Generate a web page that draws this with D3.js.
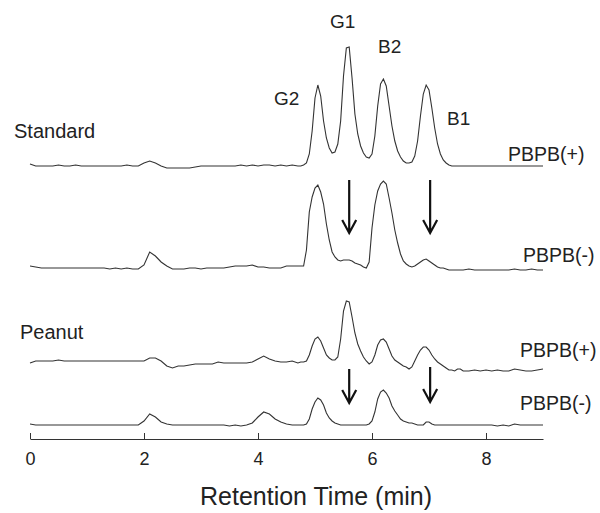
<!DOCTYPE html>
<html>
<head>
<meta charset="utf-8">
<script src="https://cdn.jsdelivr.net/npm/d3@7"></script>
<style>
  body { margin: 0; background: #fff; }
  svg { display: block; font-family: "Liberation Sans", Arial, sans-serif; }
</style>
</head>
<body>
<svg width="600" height="513"></svg>
<script>
// retention time (min), shared by all four traces
const times = [
  0.0, 0.1, 0.2, 0.3, 0.4, 0.5, 0.6, 0.7, 0.8, 0.9,
  1.0, 1.1, 1.2, 1.3, 1.4, 1.5, 1.6, 1.7, 1.8, 1.9,
  2.0, 2.1, 2.2, 2.3, 2.4, 2.5, 2.6, 2.7, 2.8, 2.9,
  3.0, 3.1, 3.2, 3.3, 3.4, 3.5, 3.6, 3.7, 3.8, 3.9,
  4.0, 4.1, 4.2, 4.3, 4.4, 4.5, 4.6, 4.7,
  4.75, 4.80, 4.85, 4.90, 4.95, 5.00, 5.05, 5.10, 5.15, 5.20,
  5.25, 5.30, 5.35, 5.40, 5.45, 5.50, 5.55, 5.60, 5.65, 5.70,
  5.75, 5.80, 5.85, 5.90, 5.95, 6.00, 6.05, 6.10, 6.15, 6.20,
  6.25, 6.30, 6.35, 6.40, 6.45, 6.50, 6.55, 6.60, 6.65, 6.70,
  6.75, 6.80, 6.85, 6.90, 6.95, 7.00, 7.05, 7.10, 7.15, 7.20,
  7.25, 7.30, 7.35, 7.40, 7.45, 7.50, 7.55, 7.60,
  7.7, 7.8, 7.9, 8.0, 8.1, 8.2, 8.3, 8.4, 8.5, 8.6, 8.7, 8.8, 8.9, 9.0
];

// detector signal (a.u.)
const standardPlus = [
  2, 0, 0, 0, 0, 1, 0, 0, 1, 0,
  0, 0, 0, 0, 0, 0, 0, 1, 0, 0,
  3, 5, 3, 0, -2, -2, -2, -2, -2, -1,
  0, 0, 0, 0, 0, 0, 0, 1, 0, 1,
  0, 1, 1, 0, 1, 0, 1, 0,
  0, 1, 3, 12, 35, 68, 81, 70, 45, 28,
  18, 13, 14, 22, 45, 90, 118, 119, 88, 52,
  32, 20, 13, 9, 8, 12, 30, 60, 82, 87,
  80, 60, 40, 25, 15, 9, 5, 3, 3, 4,
  10, 25, 50, 72, 81, 76, 58, 38, 22, 12,
  6, 3, 1, 0, 0, 0, 0, 0,
  0, 0, 0, 0, 0, 0, 0, 0, 0, 0, 0, 0, 0, 0
];
const standardMinus = [
  2, 1, 0, 0, 0, 0, 0, 0, 0, 0,
  0, 0, 0, 0, -1, 0, -1, 0, -1, -1,
  3, 16, 12, 6, 2, -1, -1, -1, 0, 0,
  -1, 0, 0, 0, 0, 1, 2, 2, 2, 3,
  1, 1, 0, 0, 0, 2, 2, 2,
  2, 2, 18, 56, 71, 80, 83, 76, 64, 44,
  28, 16, 11, 8, 7, 8, 8, 8, 7, 5,
  4, 3, 1, 0, 6, 40, 63, 77, 84, 87,
  84, 70, 55, 38, 25, 14, 7, 4, 2, 1,
  2, 4, 6, 8, 9, 7, 5, 3, 1, 0,
  0, -1, -2, -2, -2, -2, -2, -2,
  -1, -2, -2, -2, -2, -2, -2, -2, -1, -2, -2, -1, -2, -2
];
const peanutPlus = [
  -2, 0, 0, 0, 0, 1, 0, 0, 0, 0,
  0, 0, 0, 0, 0, 0, 0, 0, 0, 0,
  0, 3, 3, 0, -5, -7, -5, -5, -4, -3,
  -3, -3, -3, -1, -2, -2, -2, -2, -2, -1,
  2, 5, 2, 0, -1, -1, 0, -2,
  -1, -1, 0, 6, 15, 22, 24, 20, 13, 6,
  3, 1, 1, 4, 22, 50, 60, 59, 44, 28,
  17, 10, 4, 0, -3, -1, 6, 16, 21, 22,
  19, 12, 5, 1, -1, -3, -5, -6, -8, -6,
  0, 6, 11, 14, 14, 11, 6, 2, -1, -3,
  -5, -7, -9, -9, -10, -8, -8, -10,
  -10, -9, -10, -9, -10, -9, -10, -10, -8, -9, -10, -10, -9, -8
];
const peanutMinus = [
  1, 0, 0, 0, 0, 0, 0, 0, 0, 0,
  0, 0, 0, 0, 0, 0, 0, 0, 0, 0,
  4, 11, 8, 3, 1, 0, 0, 0, 0, 0,
  0, 0, 0, 0, 0, -1, 0, -1, 0, 2,
  8, 13, 11, 6, 3, 1, 0, 0,
  0, 0, 1, 6, 16, 23, 27, 25, 20, 12,
  7, 4, 2, 1, 0, 0, 0, 0, 0, 0,
  0, 0, 0, 0, 1, 4, 13, 26, 33, 35,
  32, 27, 19, 14, 10, 6, 4, 3, 2, 2,
  1, 0, 0, 0, 3, 3, 1, 0, 0, 0,
  0, 0, 0, 0, 0, 0, 0, 0,
  0, 0, 0, 0, 0, -1, 0, -1, 1, 0, 0, 0, 0, 0
];

const traceNames = ["PBPB(+)", "PBPB(-)", "PBPB(+)", "PBPB(-)"];
const sampleNames = ["Standard", "Peanut"];
const peakNames = ["G2", "G1", "B2", "B1"];
const xTicks = [0, 2, 4, 6, 8];
const arrowTimes = [5.6, 7.02];

const svg = d3.select("svg");
const ink = "#222";

const x = d3.scaleLinear().domain([0, 9]).range([30, 543]);
const amp = d3.scaleLinear().domain([0, 100]).range([0, -100]);

// trace layout: baseline y and label position
const traces = [
  { values: standardPlus, base: 166, lx: 508, ly: 161 },
  { values: standardMinus, base: 268, lx: 523, ly: 262 },
  { values: peanutPlus, base: 361, lx: 520, ly: 357 },
  { values: peanutMinus, base: 425, lx: 520, ly: 410 }
];

const line = d3.line()
  .x(d => x(d[0]))
  .y(d => amp(d[1]));

traces.forEach((tr, i) => {
  const g = svg.append("g").attr("transform", `translate(0,${tr.base})`);
  g.append("path")
    .datum(times.map((t, k) => [t, tr.values[k]]))
    .attr("d", line)
    .attr("fill", "none")
    .attr("stroke", "#333")
    .attr("stroke-width", 1.1);
  svg.append("text")
    .attr("x", tr.lx).attr("y", tr.ly)
    .attr("font-size", 19.5)
    .attr("fill", ink)
    .text(traceNames[i]);
});

svg.append("text").attr("x", 14).attr("y", 138)
  .attr("font-size", 20).attr("fill", ink).text(sampleNames[0]);
svg.append("text").attr("x", 20).attr("y", 339)
  .attr("font-size", 20).attr("fill", ink).text(sampleNames[1]);

// peak labels
const peakPos = [[274, 105], [330, 28], [378, 53], [447, 125]];
peakNames.forEach((p, i) => {
  svg.append("text")
    .attr("x", peakPos[i][0]).attr("y", peakPos[i][1])
    .attr("font-size", 19).attr("fill", ink).text(p);
});

// arrows
function arrow(t, y1, y2) {
  const ax = x(t);
  svg.append("path")
    .attr("d", `M${ax},${y1}V${y2}M${ax - 7},${y2 - 13}L${ax},${y2}L${ax + 7},${y2 - 13}`)
    .attr("fill", "none")
    .attr("stroke", "#111")
    .attr("stroke-width", 2.2);
}
arrow(arrowTimes[0], 180, 233);
arrow(arrowTimes[1], 180, 233);
arrow(arrowTimes[0], 369, 403);
arrow(arrowTimes[1], 367, 402);

// x axis with upward ticks
const gx = svg.append("g")
  .attr("transform", "translate(0,439)")
  .call(d3.axisBottom(x).tickValues(xTicks).tickSize(-6).tickSizeOuter(0).tickPadding(13));
gx.select(".domain").attr("stroke", "#333");
gx.selectAll(".tick line").attr("stroke", "#333");
gx.selectAll("text")
  .attr("font-size", 18)
  .attr("font-family", "Liberation Sans, Arial, sans-serif")
  .attr("fill", ink);

svg.append("text")
  .attr("x", 316).attr("y", 505)
  .attr("text-anchor", "middle")
  .attr("font-size", 25)
  .attr("fill", ink)
  .text("Retention Time (min)");
</script>
</body>
</html>
